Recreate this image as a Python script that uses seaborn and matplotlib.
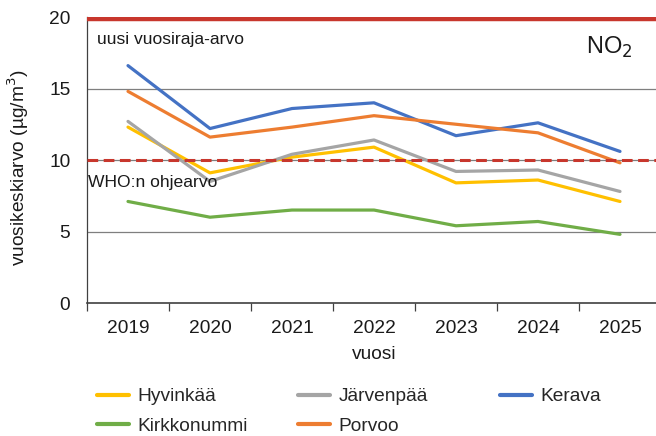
import matplotlib
matplotlib.use("Agg")
import matplotlib.pyplot as plt
import seaborn as sns
import pandas as pd
from matplotlib.ticker import FixedLocator, NullFormatter

years = ["2019", "2020", "2021", "2022", "2023", "2024", "2025"]
hyvinkaa = [12.3, 9.1, 10.2, 10.9, 8.4, 8.6, 7.1]
jarvenpaa = [12.7, 8.5, 10.4, 11.4, 9.2, 9.3, 7.8]
kerava = [16.6, 12.2, 13.6, 14.0, 11.7, 12.6, 10.6]
kirkkonummi = [7.1, 6.0, 6.5, 6.5, 5.4, 5.7, 4.8]
porvoo = [14.8, 11.6, 12.3, 13.1, 12.5, 11.9, 9.8]
series_names = ["Hyvinkää", "Järvenpää", "Kerava", "Kirkkonummi", "Porvoo"]
colors = ["#FFC000", "#A5A5A5", "#4472C4", "#70AD47", "#ED7D31"]
limit_value = 20
who_value = 10

sns.set_theme(style="white")
plt.rcParams["font.family"] = ["Liberation Sans", "DejaVu Sans"]

rows = []
for name, vals in zip(series_names, [hyvinkaa, jarvenpaa, kerava, kirkkonummi, porvoo]):
    for i, (y, v) in enumerate(zip(years, vals)):
        rows.append({"pos": i, "vuosi": y, "arvo": v, "paikka": name})
df = pd.DataFrame(rows)

fig = plt.figure(figsize=(6.56, 4.36), dpi=100)
ax = fig.add_axes([87 / 656, 1 - 303 / 436, (661 - 87) / 656, (303 - 17) / 436])

# gridlines
for g in [5, 10, 15]:
    ax.axhline(g, color="#7f7f7f", lw=0.9, zorder=1)
ax.axhline(limit_value, color="#404040", lw=1.0, zorder=1)

sns.lineplot(data=df, x="pos", y="arvo", hue="paikka", hue_order=series_names,
             palette=colors, lw=2.3, ax=ax, legend=True, zorder=3)

ax.axhline(who_value, color="#C8372D", lw=2.2, ls=(0, (3.5, 1.8)), zorder=4)
ax.plot([-0.5, 6.5], [limit_value - 0.12, limit_value - 0.12], color="#C8372D", lw=3.2, zorder=4,
        solid_capstyle="butt")

ax.set_xlim(-0.5, 6.5)
ax.set_ylim(0, 20)
ax.set_yticks([0, 5, 10, 15, 20])
ax.set_xticks(range(len(years)))
ax.set_xticklabels(years)
ax.xaxis.set_minor_locator(FixedLocator([i - 0.5 for i in range(len(years) + 1)]))
ax.xaxis.set_minor_formatter(NullFormatter())
ax.tick_params(axis="x", which="major", length=0, pad=12, labelsize=13.8, colors="#1a1a1a")
ax.tick_params(axis="x", which="minor", length=6, width=0.9, color="#404040", direction="out", bottom=True)
ax.tick_params(axis="y", length=0, pad=12, labelsize=13.8, colors="#1a1a1a")

for s in ["top", "right"]:
    ax.spines[s].set_visible(False)
ax.spines["left"].set_color("#404040")
ax.spines["left"].set_linewidth(0.9)
ax.spines["bottom"].set_color("#404040")
ax.spines["bottom"].set_linewidth(1.2)

ax.set_xlabel("vuosi", fontsize=13.8, color="#1a1a1a", labelpad=7)
ax.set_ylabel("vuosikeskiarvo (µg/m$^3$)", fontsize=13.8, color="#1a1a1a")
ax.yaxis.set_label_coords(-0.098, 0.472)

ax.text(0.018, 0.92, "uusi vuosiraja-arvo", transform=ax.transAxes, fontsize=12.6,
        color="#1a1a1a", va="center", ha="left")
ax.text(0.002, 0.42, "WHO:n ohjearvo", transform=ax.transAxes, fontsize=12.6,
        color="#1a1a1a", va="center", ha="left", zorder=5)
ax.text(0.87, 0.895, "NO$_2$", transform=ax.transAxes, fontsize=17,
        color="#1a1a1a", va="center", ha="left")

handles, labels = ax.get_legend_handles_labels()
ax.get_legend().remove()
cols = [[0, 3], [1, 4], [2]]
col_x = [97, 298, 500]
for xpix, idxs in zip(col_x, cols):
    leg = fig.legend([handles[i] for i in idxs], [labels[i] for i in idxs],
                     loc="upper left", bbox_to_anchor=(xpix / 656, 1 - 388 / 436), ncol=1,
                     frameon=False, fontsize=13.8, handlelength=1.65, labelspacing=0.62,
                     handletextpad=0.45, borderaxespad=0, borderpad=0)
    for h in leg.get_lines():
        h.set_linewidth(3)

fig.savefig("out.png", dpi=100)
